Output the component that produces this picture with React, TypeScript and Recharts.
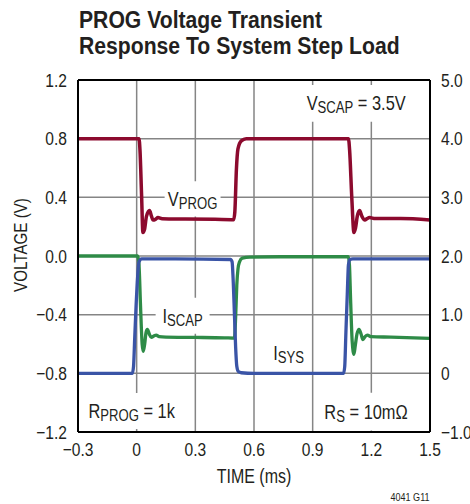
import React from 'react';
import {
  LineChart,
  Line,
  XAxis,
  YAxis,
  CartesianGrid,
  ReferenceArea,
  ReferenceLine,
} from 'recharts';

const FONT = '"Liberation Sans", Arial, sans-serif';
const SX = 0.82; // horizontal condensing to mimic a condensed face
const TEXT = '#231f20';

// ---- axis ticks ----
const xTicks = [-0.3, 0, 0.3, 0.6, 0.9, 1.2, 1.5];
const leftTicks = [-1.2, -0.8, -0.4, 0, 0.4, 0.8, 1.2];
const rightTicks = [-1, 0, 1, 2, 3, 4, 5];

// ---- V_PROG (left axis, V) ----
const vprogT = [-0.3, 0.012, 0.017, 0.025, 0.032, 0.040, 0.050, 0.066, 0.076, 0.084, 0.096, 0.109, 0.13, 0.25, 0.40, 0.496,
  0.502, 0.510, 0.518, 0.535, 0.56, 1.083, 1.089, 1.100, 1.111, 1.119, 1.128, 1.140, 1.152, 1.167, 1.178, 1.191, 1.22, 1.35, 1.5];
const vprogV = [0.80, 0.80, 0.72, 0.42, 0.16, 0.18, 0.27, 0.31, 0.27, 0.245, 0.25, 0.262, 0.254, 0.252, 0.25, 0.248,
  0.30, 0.59, 0.73, 0.785, 0.80, 0.80, 0.72, 0.40, 0.16, 0.19, 0.27, 0.31, 0.27, 0.245, 0.255, 0.262, 0.255, 0.255, 0.245];

// ---- I_SCAP (left axis scale) ----
const iscapT = [-0.3, 0.006, 0.012, 0.020, 0.028, 0.034, 0.041, 0.048, 0.055, 0.064, 0.075, 0.088, 0.1, 0.115, 0.15, 0.3, 0.45,
  0.500, 0.506, 0.512, 0.518, 0.526, 0.54, 0.58, 0.8, 1.082, 1.088, 1.094, 1.102, 1.111, 1.118, 1.127, 1.137, 1.147, 1.157,
  1.168, 1.180, 1.2, 1.3, 1.5];
const iscapV = [0.0, 0.0, -0.06, -0.35, -0.6, -0.65, -0.6, -0.52, -0.50, -0.53, -0.555, -0.545, -0.54, -0.55, -0.553, -0.555, -0.558,
  -0.56, -0.42, -0.2, -0.09, -0.04, -0.015, -0.007, -0.005, -0.005, -0.06, -0.3, -0.58, -0.67, -0.61, -0.53, -0.50, -0.53, -0.57,
  -0.55, -0.54, -0.55, -0.553, -0.561];

// ---- I_SYS (right axis, A) ----
const isysT = [-0.3, -0.022, -0.016, -0.010, -0.003, 0.005, 0.012, 0.025, 0.2, 0.48, 0.488, 0.494, 0.500, 0.506, 0.512, 0.520,
  0.535, 0.6, 1.058, 1.064, 1.070, 1.077, 1.083, 1.090, 1.105, 1.3, 1.5];
const isysV = [0.0, 0.0, 0.12, 0.6, 1.15, 1.65, 1.9, 1.95, 1.95, 1.94, 1.9, 1.55, 1.0, 0.45, 0.12, 0.03,
  0.01, 0.0, 0.0, 0.12, 0.7, 1.35, 1.85, 1.94, 1.95, 1.95, 1.95];

const zip = (t: number[], v: number[]) => t.map((x, i) => ({ t: x, v: v[i] }));
const vprogData = zip(vprogT, vprogV);
const iscapData = zip(iscapT, iscapV);
const isysData = zip(isysT, isysV);

const minus = (s: string) => s.replace('-', '\u2212');
const fmtX = (v: number) => (v === 0 ? '0' : minus(v.toFixed(1)));
const fmtL = (v: number) => minus(v.toFixed(1));
const fmtR = (v: number) => (v === 0 ? '0' : minus(v.toFixed(1)));

function makeTick(fmt: (v: number) => string, anchor: string, dy: string) {
  return function Tick(props: any) {
    const { x, y, payload } = props;
    return (
      <text transform={`translate(${x},${y}) scale(${SX},1)`} textAnchor={anchor} dy={dy}
        fontFamily={FONT} fontSize={19} fill={TEXT}>
        {fmt(payload.value)}
      </text>
    );
  };
}
const XTick = makeTick(fmtX, 'middle', '0.71em');
const LTick = makeTick(fmtL, 'end', '0.355em');
const RTick = makeTick(fmtR, 'start', '0.355em');

function Ann(props: any) {
  const { viewBox, main, sub, rest } = props;
  if (!viewBox) return null;
  const cx = viewBox.x + viewBox.width / 2;
  const cy = viewBox.y + viewBox.height / 2;
  return (
    <text transform={`translate(${cx},${cy + 7}) scale(${SX},1)`} textAnchor="middle" fontFamily={FONT} fontSize={20} fill={TEXT}>
      {main}
      <tspan fontSize={16} dy={3}>{sub}</tspan>
      {rest ? <tspan dy={-3}>{rest}</tspan> : null}
    </text>
  );
}

function XTitle(props: any) {
  const { viewBox } = props;
  if (!viewBox) return null;
  return (
    <text transform={`translate(${viewBox.x + viewBox.width / 2},${viewBox.y + 51}) scale(${SX},1)`} textAnchor="middle"
      fontFamily={FONT} fontSize={19.5} fill={TEXT}>
      TIME (ms)
    </text>
  );
}

function YTitle(props: any) {
  const { viewBox } = props;
  if (!viewBox) return null;
  const x = viewBox.x + 27;
  const y = viewBox.y + viewBox.height / 2 - 11;
  return (
    <text transform={`translate(${x},${y}) rotate(-90) scale(${SX},1)`} textAnchor="middle" fontFamily={FONT} fontSize={18.5} fill={TEXT}>
      VOLTAGE (V)
    </text>
  );
}

const axisLine = { stroke: '#000', strokeWidth: 2 };

const titleLine: React.CSSProperties = {
  position: 'absolute', left: 79, fontFamily: FONT, fontWeight: 'bold', fontSize: 23, lineHeight: '22px',
  color: TEXT, whiteSpace: 'nowrap', transform: 'scaleX(0.92)', transformOrigin: 'left top',
};

export default function App() {
  return (
    <div style={{ position: 'absolute', left: 0, top: 0, width: 470, height: 504, background: '#fff', overflow: 'hidden' }}>
      <LineChart width={470} height={504} margin={{ top: 80, right: 0, bottom: 0, left: 0 }}>
        <CartesianGrid yAxisId="left" stroke="#858585" strokeWidth={1.5} />
        <XAxis
          type="number"
          dataKey="t"
          domain={[-0.3, 1.5]}
          ticks={xTicks}
          interval={0}
          allowDataOverflow
          height={72}
          tickLine={false}
          tickSize={0}
          tickMargin={11}
          axisLine={axisLine}
          tick={<XTick />}
          label={<XTitle />}
        />
        <YAxis
          yAxisId="left"
          type="number"
          domain={[-1.2, 1.2]}
          ticks={leftTicks}
          interval={0}
          allowDataOverflow
          width={78}
          tickLine={false}
          tickSize={0}
          tickMargin={11}
          axisLine={axisLine}
          tick={<LTick />}
          label={<YTitle />}
        />
        <YAxis
          yAxisId="right"
          orientation="right"
          type="number"
          domain={[-1, 5]}
          ticks={rightTicks}
          interval={0}
          allowDataOverflow
          width={40}
          tickLine={false}
          tickSize={0}
          tickMargin={11}
          axisLine={axisLine}
          tick={<RTick />}
        />
        <ReferenceLine yAxisId="left" y={1.2} stroke="#000" strokeWidth={2} />

        <ReferenceArea yAxisId="left" x1={0.143} x2={0.429} y1={0.27} y2={0.51} fill="#fff" fillOpacity={1} stroke="none"
          label={<Ann main="V" sub="PROG" />} />
        <ReferenceArea yAxisId="left" x1={0.849} x2={1.396} y1={0.915} y2={1.166} fill="#fff" fillOpacity={1} stroke="none"
          label={<Ann main="V" sub="SCAP" rest=" = 3.5V" />} />
        <ReferenceArea yAxisId="left" x1={-0.291} x2={0.24} y1={-1.179} y2={-0.934} fill="#fff" fillOpacity={1} stroke="none"
          label={<Ann main="R" sub="PROG" rest=" = 1k" />} />
        <ReferenceArea yAxisId="left" x1={0.925} x2={1.421} y1={-1.19} y2={-0.932} fill="#fff" fillOpacity={1} stroke="none"
          label={<Ann main="R" sub="S" rest=" = 10mΩ" />} />
        <ReferenceArea yAxisId="left" x1={0.097} x2={0.373} y1={-0.53} y2={-0.285} fill="#fff" fillOpacity={1} stroke="none"
          label={<Ann main="I" sub="SCAP" />} />
        <ReferenceArea yAxisId="left" x1={0.68} x2={0.875} y1={-0.743} y2={-0.573} fill="#fff" fillOpacity={1} stroke="none"
          label={<Ann main="I" sub="SYS" />} />

        <Line yAxisId="left" data={vprogData} dataKey="v" type="monotone" stroke="#8c0a2e" strokeWidth={3.5}
          dot={false} isAnimationActive={false} />
        <Line yAxisId="left" data={iscapData} dataKey="v" type="monotone" stroke="#2e8b47" strokeWidth={3.3}
          dot={false} isAnimationActive={false} />
        <Line yAxisId="right" data={isysData} dataKey="v" type="monotone" stroke="#3a54a6" strokeWidth={3.3}
          dot={false} isAnimationActive={false} />
      </LineChart>
      <div style={{ ...titleLine, top: 8.5 }}>PROG Voltage Transient</div>
      <div style={{ ...titleLine, top: 34.5 }}>Response To System Step Load</div>
      <div style={{ position: 'absolute', right: 40, top: 492, fontFamily: FONT, fontSize: 11, lineHeight: '11px', color: TEXT,
        whiteSpace: 'nowrap', transform: `scaleX(${SX})`, transformOrigin: 'right top' }}>
        4041 G11
      </div>
    </div>
  );
}
